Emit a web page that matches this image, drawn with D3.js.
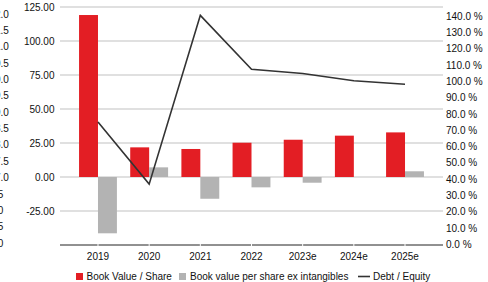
<!DOCTYPE html>
<html>
<head>
<meta charset="utf-8">
<script src="https://cdn.jsdelivr.net/npm/d3@7"></script>
<style>
    html, body { margin: 0; padding: 0; background: #fff; overflow: hidden; }
    svg { display: block; font-family: "Liberation Sans", Arial, sans-serif; }
</style>
</head>
<body>
<svg id="main-svg" width="488" height="282"></svg>
<script>
// chart values
let YEARS = ['2019', '2020', '2021', '2022', '2023e', '2024e', '2025e'];
let BOOK_VALUE = [119.1, 21.8, 20.6, 25.2, 27.4, 30.4, 32.8];
let BOOK_VALUE_EX_INTANG = [-41.4, 7.1, -16.0, -7.6, -4.2, 0, 4.2];
let DEBT_EQUITY = [75.0, 37.0, 140.4, 107.4, 104.8, 100.3, 98.2];

let LEFT_TICKS = [125, 100, 75, 50, 25, 0, -25];
let RIGHT_TICKS = [0, 10, 20, 30, 40, 50, 60, 70, 80, 90, 100, 110, 120, 130, 140];
// a third axis that is cut off at the left edge of the picture
let CUT_LABELS_TOP = ['12.0', '11.5', '11.0', '10.5', '10.0', '9.5', '9.0', '8.5', '8.0', '7.5', '7.0'];
let CUT_LABELS_BOTTOM = ['25', '20', '15', '10'];

let SERIES_NAMES = ['Book Value / Share', 'Book value per share ex intangibles', 'Debt / Equity'];

let RED = '#e31e24';
let GREY = '#b3b3b3';
let LINE = '#333333';
let GRID = '#d6d6d6';

let svg = d3.select('#main-svg');

let x = d3.scaleBand().domain(YEARS).range([72.4, 430.6]).paddingInner(0.26).paddingOuter(0.13);
let xs = d3.scaleBand().domain([0, 1]).range([0, x.bandwidth()]);
let yLeft = d3.scaleLinear().domain([-50, 125]).range([245, 7]);
let yRight = d3.scaleLinear().domain([0, 140]).range([244.5, 16]);

// gridlines
svg.append('g').selectAll('line').data(LEFT_TICKS).enter().append('line')
    .attr('x1', 60).attr('x2', 443)
    .attr('y1', d => yLeft(d)).attr('y2', d => yLeft(d))
    .attr('stroke', GRID).attr('stroke-width', 1.3);

// bars
let bars = [];
YEARS.forEach((yr, i) => {
    bars.push({ year: yr, s: 0, v: BOOK_VALUE[i], fill: RED });
    bars.push({ year: yr, s: 1, v: BOOK_VALUE_EX_INTANG[i], fill: GREY });
});
svg.append('g').selectAll('rect').data(bars.filter(b => b.v !== 0)).enter().append('rect')
    .attr('x', b => x(b.year) + xs(b.s))
    .attr('width', xs.bandwidth())
    .attr('y', b => yLeft(Math.max(0, b.v)))
    .attr('height', b => Math.abs(yLeft(b.v) - yLeft(0)))
    .attr('fill', b => b.fill);

// debt / equity line
let line = d3.line()
    .x((d, i) => x(YEARS[i]) + x.bandwidth() / 2)
    .y(d => yRight(d));
svg.append('path').datum(DEBT_EQUITY)
    .attr('d', line)
    .attr('fill', 'none')
    .attr('stroke', LINE)
    .attr('stroke-width', 1.6)
    .attr('stroke-linejoin', 'miter');

// bottom axis line with little breaks at each category
svg.append('line')
    .attr('x1', 60).attr('x2', 443).attr('y1', 245).attr('y2', 245)
    .attr('stroke', '#222').attr('stroke-width', 1);
svg.append('g').selectAll('line').data(YEARS).enter().append('line')
    .attr('x1', d => x(d) + x.bandwidth() / 2).attr('x2', d => x(d) + x.bandwidth() / 2)
    .attr('y1', 244).attr('y2', 246)
    .attr('stroke', '#fff').attr('stroke-width', 1);

// category labels
svg.append('g').selectAll('text').data(YEARS).enter().append('text')
    .attr('x', d => x(d) + x.bandwidth() / 2)
    .attr('y', 259.5)
    .attr('text-anchor', 'middle')
    .attr('font-size', 10)
    .attr('fill', '#111')
    .text(d => d);

// left axis labels
svg.append('g').selectAll('text').data(LEFT_TICKS).enter().append('text')
    .attr('x', 54.5)
    .attr('y', d => yLeft(d) + 3.6)
    .attr('text-anchor', 'end')
    .attr('font-size', 10)
    .attr('fill', '#111')
    .text(d => d3.format('.2f')(d).replace('−', '-'));

// right axis labels
svg.append('g').selectAll('text').data(RIGHT_TICKS).enter().append('text')
    .attr('x', 446)
    .attr('y', d => yRight(d) + 3.6)
    .attr('text-anchor', 'start')
    .attr('font-size', 10)
    .attr('fill', '#111')
    .text(d => d3.format('.1f')(d) + ' %');

// cut off axis on the far left
let cutLabels = CUT_LABELS_TOP.map((t, i) => ({ t: t, i: i, end: 8.8 }))
    .concat(CUT_LABELS_BOTTOM.map((t, i) => ({ t: t, i: i + CUT_LABELS_TOP.length, end: 3.2 })));
let cutY = d3.scaleLinear().domain([0, cutLabels.length - 1]).range([14, 243]);
svg.append('g').selectAll('text').data(cutLabels).enter().append('text')
    .attr('x', d => d.end)
    .attr('y', d => cutY(d.i) + 3.6)
    .attr('text-anchor', 'end')
    .attr('font-size', 10)
    .attr('fill', '#111')
    .text(d => d.t);

// legend
let legend = svg.append('g').attr('font-size', 10).attr('fill', '#111');
legend.append('rect').attr('x', 76).attr('y', 273).attr('width', 7).attr('height', 7).attr('fill', RED);
legend.append('text').attr('x', 86.5).attr('y', 280).text(SERIES_NAMES[0]);
legend.append('rect').attr('x', 179).attr('y', 273).attr('width', 7).attr('height', 7).attr('fill', GREY);
legend.append('text').attr('x', 190).attr('y', 280).text(SERIES_NAMES[1]);
legend.append('line').attr('x1', 358).attr('x2', 370).attr('y1', 276.5).attr('y2', 276.5)
    .attr('stroke', LINE).attr('stroke-width', 1.6);
legend.append('text').attr('x', 373).attr('y', 280).text(SERIES_NAMES[2]);
</script>
</body>
</html>
